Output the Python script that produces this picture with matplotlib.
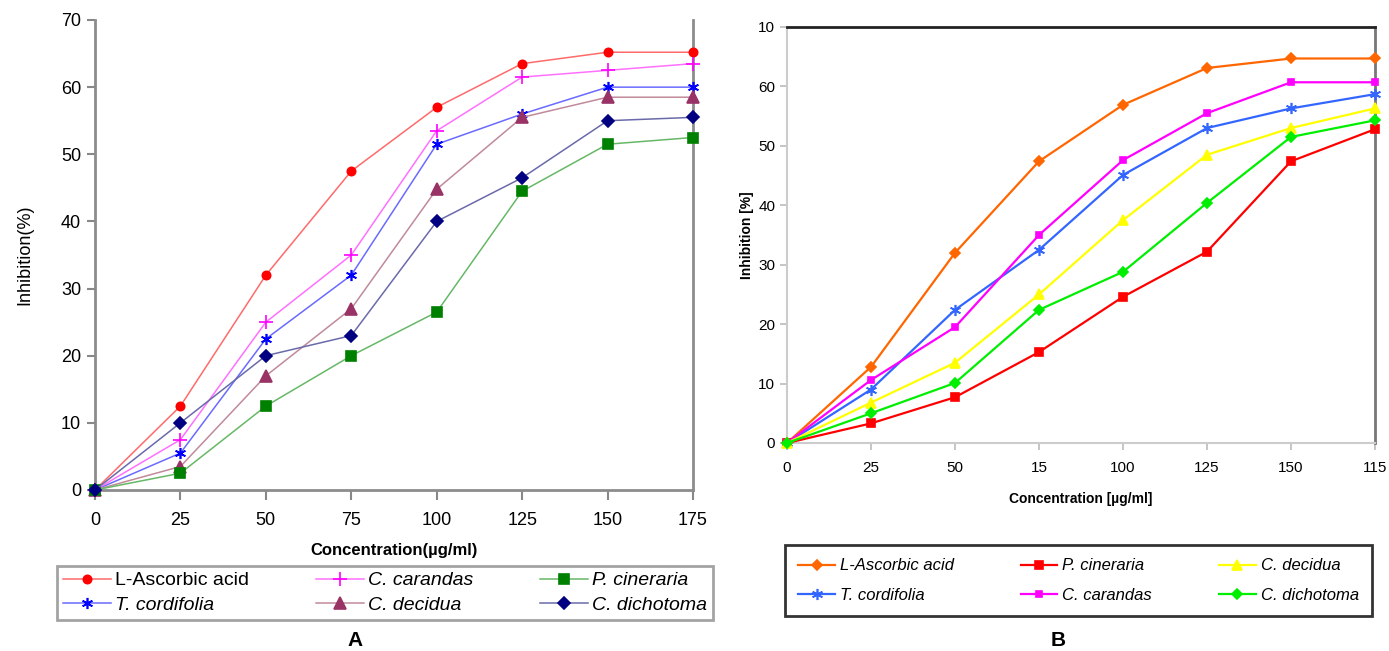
"""
Two-panel inhibition (%) vs concentration chart
"""
import matplotlib
matplotlib.use('Agg')
import matplotlib.pyplot as plt
from matplotlib import font_manager

# ---- data ----
conc = [0, 25, 50, 75, 100, 125, 150, 175]

# panel A
a_ascorbic = [0, 12.5, 32, 47.5, 57, 63.5, 65.2, 65.2]
a_carandas = [0, 7.5, 25, 35, 53.5, 61.5, 62.5, 63.5]
a_cineraria = [0, 2.5, 12.5, 20, 26.5, 44.5, 51.5, 52.5]
a_cordifolia = [0, 5.5, 22.5, 32, 51.5, 56, 60, 60]
a_decidua = [0, 3.5, 17, 27, 44.8, 55.5, 58.5, 58.5]
a_dichotoma = [0, 10, 20, 23, 40, 46.5, 55, 55.5]

# panel B
b_ascorbic = [0, 12.8, 32, 47.4, 56.9, 63.1, 64.7, 64.7]
b_cineraria = [0, 3.3, 7.7, 15.3, 24.6, 32.2, 47.4, 52.8]
b_decidua = [0, 6.8, 13.5, 25, 37.5, 48.5, 53, 56.3]
b_cordifolia = [0, 9, 22.4, 32.5, 45.1, 53, 56.3, 58.7]
b_carandas = [0, 10.6, 19.5, 35, 47.6, 55.5, 60.7, 60.7]
b_dichotoma = [0, 5, 10.1, 22.4, 28.8, 40.4, 51.5, 54.3]

x_ticks = [0, 25, 50, 75, 100, 125, 150, 175]
a_xlabels = ['0', '25', '50', '75', '100', '125', '150', '175']
b_xlabels = ['0', '25', '50', '15', '100', '125', '150', '115']
y_ticks = [0, 10, 20, 30, 40, 50, 60, 70]
a_ylabels = ['0', '10', '20', '30', '40', '50', '60', '70']
b_ylabels = ['0', '10', '20', '30', '40', '50', '60', '10']

W, H = 1389, 651
fig = plt.figure(figsize=(W / 100, H / 100), dpi=100)


def box(l, t, r, b):
    return [l / W, 1 - b / H, (r - l) / W, (b - t) / H]


# ================= panel A =================
plt.rcParams['font.family'] = ['Liberation Sans', 'DejaVu Sans']
axA = fig.add_axes(box(95, 20, 693, 490))
a_series = [
    ('L-Ascorbic acid', a_ascorbic, '#ff6a6a', 'red', 'o', 6, 'normal'),
    ('T. cordifolia', a_cordifolia, '#6a6aff', 'blue', (6, 2, 0), 8, 'italic'),
    ('C. carandas', a_carandas, '#ff70ff', '#ff00ff', '+', 10, 'italic'),
    ('C. decidua', a_decidua, '#c08a9a', '#993366', '^', 8, 'italic'),
    ('P. cineraria', a_cineraria, '#66b866', '#008000', 's', 6.5, 'italic'),
    ('C. dichotoma', a_dichotoma, '#6a6aaa', '#000080', 'D', 6, 'italic'),
]
for name, ys, lc, mc, mk, ms, st in a_series:
    axA.plot(conc, ys, color=lc, lw=1.1, marker=mk, ms=ms,
             mfc=mc, mec=mc, mew=1.2, label=name, clip_on=False, zorder=3)
axA.set_xlim(0, 175)
axA.set_ylim(0, 70)
axA.set_xticks(x_ticks)
axA.set_xticklabels(a_xlabels)
axA.set_yticks(y_ticks)
axA.set_yticklabels(a_ylabels)
axA.tick_params(axis='both', labelsize=13, color='#888888', width=1.5)
axA.tick_params(axis='x', length=7, pad=9, direction='out')
axA.tick_params(axis='y', length=6, pad=4)
axA.spines['top'].set_visible(False)
for s in ['left', 'right', 'bottom']:
    axA.spines[s].set_color('#8c8c8c')
    axA.spines[s].set_linewidth(2)
axA.set_xlabel('Concentration(µg/ml)', fontsize=12, fontweight='bold',
               labelpad=10)
axA.set_ylabel('Inhibition(%)', fontsize=13, labelpad=20)

legA = axA.legend(loc='upper left', ncol=3, mode='expand',
                  bbox_to_anchor=box(57, 566, 713, 620),
                  bbox_transform=fig.transFigure, fontsize=14,
                  frameon=True, fancybox=False, borderpad=0.3,
                  labelspacing=0.35, handlelength=2.5, handletextpad=0.2,
                  borderaxespad=0, columnspacing=0.5)
legA.get_frame().set_edgecolor('#8c8c8c')
legA.get_frame().set_linewidth(2)
for txt, ser in zip(legA.get_texts(), a_series):
    txt.set_fontstyle(ser[6])
fig.text(355 / W, 1 - 640 / H, 'A', ha='center', va='center',
         fontsize=15, fontweight='bold')

# ================= panel B =================
names = {f.name for f in font_manager.fontManager.ttflist}
nf = ['Liberation Sans Narrow', 'Liberation Sans', 'DejaVu Sans']
nf = [n for n in nf if n in names] or ['DejaVu Sans']
axB = fig.add_axes(box(787, 27, 1375, 443))
b_series = [
    ('L-Ascorbic acid', b_ascorbic, '#ff6600', 'D', 5),
    ('T. cordifolia', b_cordifolia, '#3366ff', (6, 2, 0), 8),
    ('P. cineraria', b_cineraria, '#ff0000', 's', 6),
    ('C. carandas', b_carandas, '#ff00ff', 's', 5),
    ('C. decidua', b_decidua, '#ffff00', '^', 7),
    ('C. dichotoma', b_dichotoma, '#00ee00', 'D', 5.5),
]
for name, ys, c, mk, ms in b_series:
    axB.plot(conc, ys, color=c, lw=1.6, marker=mk, ms=ms, mfc=c, mec=c,
             mew=1.2, label=name, clip_on=False, zorder=3)
axB.set_xlim(0, 175)
axB.set_ylim(0, 70)
axB.set_xticks(x_ticks)
axB.set_xticklabels(b_xlabels, family=nf, stretch='condensed')
axB.set_yticks(y_ticks)
axB.set_yticklabels(b_ylabels, family=nf, stretch='condensed')
axB.tick_params(axis='both', labelsize=11, color='#bbbbbb', width=1.2,
                length=5)
axB.tick_params(axis='x', pad=8)
axB.spines['top'].set_color('#222222')
axB.spines['top'].set_linewidth(2)
axB.spines['right'].set_color('#777777')
axB.spines['right'].set_linewidth(2)
axB.spines['left'].set_color('#cccccc')
axB.spines['bottom'].set_color('#cccccc')
axB.spines['left'].set_linewidth(1.5)
axB.spines['bottom'].set_linewidth(1.5)
axB.set_xlabel('Concentration [µg/ml]', fontsize=10, fontweight='bold',
               family=nf, labelpad=12)
axB.set_ylabel('Inhibition [%]', fontsize=10, fontweight='bold',
               family=nf, labelpad=3)

legB = axB.legend(loc='upper left', ncol=3, mode='expand',
                  bbox_to_anchor=box(785, 545, 1372, 615),
                  bbox_transform=fig.transFigure,
                  prop={'family': nf, 'size': 12, 'style': 'italic'},
                  frameon=True, fancybox=False, borderpad=0.8,
                  labelspacing=0.85, handlelength=2.2, handletextpad=0.3,
                  borderaxespad=0, columnspacing=1.0)
legB.get_frame().set_edgecolor('black')
legB.get_frame().set_linewidth(2)
fig.text(1058 / W, 1 - 640 / H, 'B', ha='center', va='center',
         fontsize=15, fontweight='bold')

fig.savefig('out.png', dpi=100)
